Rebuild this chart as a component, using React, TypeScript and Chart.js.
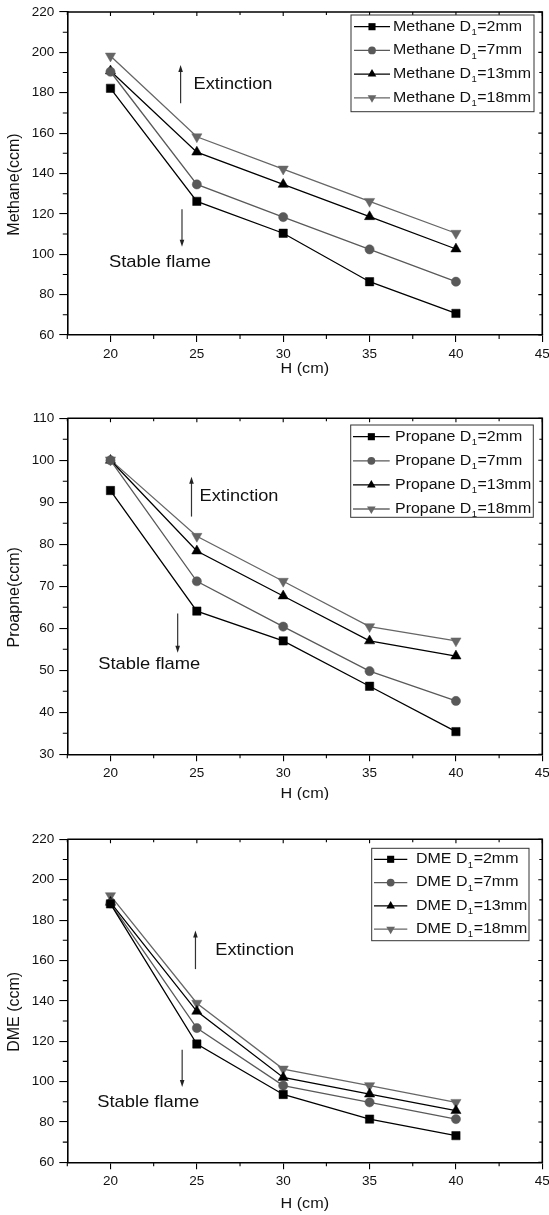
import React, { useEffect, useRef } from 'react';
import { Chart, registerables } from 'chart.js';

Chart.register(...registerables);

// ---------------- data ----------------
const H_CM = [20, 25, 30, 35, 40];
const D1_SIZES = ['2mm', '7mm', '13mm', '18mm'];

const METHANE_2 = [182.2, 126.2, 110.4, 86.4, 70.7];
const METHANE_7 = [190.4, 134.6, 118.4, 102.4, 86.4];
const METHANE_13 = [190.8, 150.6, 134.6, 118.6, 102.6];
const METHANE_18 = [198.2, 158.2, 142.2, 126.2, 110.4];

const PROPANE_2 = [92.8, 64.1, 57.0, 46.2, 35.4];
const PROPANE_7 = [100.0, 71.2, 60.4, 49.8, 42.7];
const PROPANE_13 = [100.0, 78.4, 67.7, 57.0, 53.4];
const PROPANE_18 = [100.1, 81.9, 71.2, 60.4, 57.0];

const DME_2 = [188.0, 118.6, 93.6, 81.4, 73.2];
const DME_7 = [188.3, 126.5, 98.0, 89.7, 81.4];
const DME_13 = [188.8, 134.8, 102.0, 93.8, 85.6];
const DME_18 = [192.1, 138.8, 106.2, 98.0, 89.7];

const X_TICKS = [20, 25, 30, 35, 40, 45];
const Y_TICKS_220 = [60, 80, 100, 120, 140, 160, 180, 200, 220];
const Y_TICKS_110 = [30, 40, 50, 60, 70, 80, 90, 100, 110];

// ---------------- styling ----------------
const FONT = '"Liberation Sans", Arial, Helvetica, sans-serif';
const SERIES_COLORS = ['#000000', '#595959', '#000000', '#666666'];
const POINT_STYLES = ['rect', 'circle', 'triangle', 'triangle'];
const POINT_ROT = [0, 0, 0, 180];
const POINT_R = [5.9, 4.6, 5.9, 5.9];

const W = 549;
const PLOT_LEFT = 67.3;
const PLOT_RIGHT = 542.3;
const X_MIN = 17.5;
const X_MAX = 45;

type Panel = {
  gas: string;
  yTitle: string;
  series: number[][];
  yTicks: number[];
  top: number;
  height: number;
  areaTop: number;
  areaBottom: number;
  xTitleOff: number;
  legend: { x0: number; y0: number; x1: number; y1: number; row0: number; gap: number; lx0: number; lx1: number; tx: number };
  ann: { up: [number, number, number]; down: [number, number, number]; ext: [number, number]; stable: [number, number] };
};

const PANELS: Panel[] = [
  {
    gas: 'Methane', yTitle: 'Methane(ccm)',
    series: [METHANE_2, METHANE_7, METHANE_13, METHANE_18],
    yTicks: Y_TICKS_220,
    top: 0, height: 400, areaTop: 12, areaBottom: 335, xTitleOff: 34,
    legend: { x0: 351, y0: 15, x1: 534, y1: 111.7, row0: 26.7, gap: 23.7, lx0: 354, lx1: 390, tx: 393 },
    ann: { up: [24.06, 174.8, 193.7], down: [24.14, 122.3, 103.7], ext: [24.81, 184.2], stable: [19.91, 96] },
  },
  {
    gas: 'Propane', yTitle: 'Proapne(ccm)',
    series: [PROPANE_2, PROPANE_7, PROPANE_13, PROPANE_18],
    yTicks: Y_TICKS_110,
    top: 400, height: 400, areaTop: 18.3, areaBottom: 354.3, xTitleOff: 39.5,
    legend: { x0: 350.7, y0: 25, x1: 533.3, y1: 117.3, row0: 36.7, gap: 24.1, lx0: 353, lx1: 389.7, tx: 395 },
    ann: { up: [24.69, 86.6, 96.1], down: [23.89, 63.5, 54.2], ext: [25.16, 91.5], stable: [19.29, 51.4] },
  },
  {
    gas: 'DME', yTitle: 'DME (ccm)',
    series: [DME_2, DME_7, DME_13, DME_18],
    yTicks: Y_TICKS_220,
    top: 800, height: 415, areaTop: 39.3, areaBottom: 362.3, xTitleOff: 41.5,
    legend: { x0: 371.7, y0: 48.3, x1: 529, y1: 140.7, row0: 59.3, gap: 23.3, lx0: 374, lx1: 407.3, tx: 416 },
    ann: { up: [24.92, 155.7, 174.8], down: [24.15, 115.8, 97.3], ext: [26.07, 164.9], stable: [19.23, 89.9] },
  },
];

// ---------------- drawing helpers ----------------
const SUBS = '₀₁₂₃₄₅₆₇₈₉';

function drawRich(ctx: CanvasRenderingContext2D, text: string, x: number, y: number, size: number, sx: number) {
  ctx.save();
  ctx.translate(x, y);
  ctx.scale(sx, 1);
  ctx.textBaseline = 'middle';
  ctx.textAlign = 'left';
  const subSize = Math.round(size * 0.6 * 10) / 10;
  let cx = 0;
  let buf = '';
  const flush = () => {
    if (!buf) return;
    ctx.font = `${size}px ${FONT}`;
    ctx.fillText(buf, cx, 0);
    cx += ctx.measureText(buf).width;
    buf = '';
  };
  for (const ch of text) {
    const i = SUBS.indexOf(ch);
    if (i >= 0) {
      flush();
      ctx.font = `${subSize}px ${FONT}`;
      ctx.fillText(String(i), cx + 0.3, size * 0.42);
      cx += ctx.measureText(String(i)).width + 0.8;
    } else buf += ch;
  }
  flush();
  ctx.restore();
}

function drawMarker(ctx: CanvasRenderingContext2D, style: string, rot: number, x: number, y: number, r: number, color: string) {
  ctx.fillStyle = color;
  ctx.beginPath();
  if (style === 'rect') {
    const s = r * Math.SQRT1_2;
    ctx.rect(x - s, y - s, 2 * s, 2 * s);
  } else if (style === 'circle') {
    ctx.arc(x, y, r, 0, Math.PI * 2);
  } else {
    const d = rot ? -1 : 1;
    const hw = r * Math.sin(Math.PI / 3);
    ctx.moveTo(x, y - d * r);
    ctx.lineTo(x - hw, y + (d * r) / 2);
    ctx.lineTo(x + hw, y + (d * r) / 2);
    ctx.closePath();
  }
  ctx.fill();
}

function arrow(ctx: CanvasRenderingContext2D, x: number, yFrom: number, yTo: number) {
  const dir = yTo < yFrom ? -1 : 1;
  ctx.strokeStyle = '#333';
  ctx.fillStyle = '#222';
  ctx.lineWidth = 1.2;
  ctx.beginPath();
  ctx.moveTo(x, yFrom);
  ctx.lineTo(x, yTo - dir * 6);
  ctx.stroke();
  ctx.beginPath();
  ctx.moveTo(x, yTo);
  ctx.lineTo(x - 2.3, yTo - dir * 7);
  ctx.lineTo(x + 2.3, yTo - dir * 7);
  ctx.closePath();
  ctx.fill();
}

function midpoints(arr: number[]) {
  const out: number[] = [];
  for (let i = 0; i < arr.length - 1; i++) out.push((arr[i] + arr[i + 1]) / 2);
  return out;
}

function makeDecor(p: Panel, labels: string[]) {
  return {
    id: 'decor',
    afterDraw(chart: any) {
      const ctx: CanvasRenderingContext2D = chart.ctx;
      const a = chart.chartArea;
      const xs = chart.scales.x;
      const ys = chart.scales.y;
      ctx.save();
      // top and right frame
      ctx.strokeStyle = '#000';
      ctx.lineWidth = 1.6;
      ctx.beginPath();
      ctx.moveTo(a.left, a.top);
      ctx.lineTo(a.right, a.top);
      ctx.lineTo(a.right, a.bottom);
      ctx.stroke();

      ctx.lineWidth = 1.1;
      ctx.beginPath();
      const xMinor = [X_MIN, ...midpoints(X_TICKS)];
      for (const v of xMinor) {
        const px = xs.getPixelForValue(v);
        ctx.moveTo(px, a.bottom);
        ctx.lineTo(px, a.bottom + 4);
        ctx.moveTo(px, a.top);
        ctx.lineTo(px, a.top + 3);
      }
      for (const v of X_TICKS) {
        const px = xs.getPixelForValue(v);
        ctx.moveTo(px, a.top);
        ctx.lineTo(px, a.top + 4);
      }
      const yMinor = midpoints(p.yTicks);
      for (const v of yMinor) {
        const py = ys.getPixelForValue(v);
        ctx.moveTo(a.left - 4.5, py);
        ctx.lineTo(a.left, py);
        ctx.moveTo(a.right, py);
        ctx.lineTo(a.right - 3, py);
      }
      for (const v of p.yTicks) {
        const py = ys.getPixelForValue(v);
        ctx.moveTo(a.right, py);
        ctx.lineTo(a.right - 4, py);
      }
      ctx.stroke();

      // axis titles
      ctx.fillStyle = '#111';
      ctx.font = `16px ${FONT}`;
      ctx.textAlign = 'center';
      ctx.textBaseline = 'middle';
      ctx.save();
      ctx.translate(15, (a.top + a.bottom) / 2 + 11);
      ctx.rotate(-Math.PI / 2);
      ctx.fillText(p.yTitle, 0, 0);
      ctx.restore();
      ctx.save();
      ctx.translate((a.left + a.right) / 2, a.bottom + p.xTitleOff);
      ctx.scale(1.08, 1);
      ctx.font = `15px ${FONT}`;
      ctx.fillText('H (cm)', 0, 0);
      ctx.restore();

      // annotations
      const an = p.ann;
      arrow(ctx, xs.getPixelForValue(an.up[0]), ys.getPixelForValue(an.up[1]), ys.getPixelForValue(an.up[2]));
      arrow(ctx, xs.getPixelForValue(an.down[0]), ys.getPixelForValue(an.down[1]), ys.getPixelForValue(an.down[2]));
      ctx.fillStyle = '#111';
      drawRich(ctx, 'Extinction', xs.getPixelForValue(an.ext[0]), ys.getPixelForValue(an.ext[1]), 17, 1.07);
      drawRich(ctx, 'Stable flame', xs.getPixelForValue(an.stable[0]), ys.getPixelForValue(an.stable[1]), 17, 1.08);

      // legend
      const L = p.legend;
      ctx.fillStyle = '#fff';
      ctx.fillRect(L.x0, L.y0, L.x1 - L.x0, L.y1 - L.y0);
      ctx.strokeStyle = '#333';
      ctx.lineWidth = 1;
      ctx.strokeRect(L.x0, L.y0, L.x1 - L.x0, L.y1 - L.y0);
      labels.forEach((lab, i) => {
        const yy = L.row0 + i * L.gap;
        const col = SERIES_COLORS[i];
        ctx.strokeStyle = col;
        ctx.lineWidth = 1.3;
        ctx.beginPath();
        ctx.moveTo(L.lx0, yy);
        ctx.lineTo(L.lx1, yy);
        ctx.stroke();
        drawMarker(ctx, POINT_STYLES[i], POINT_ROT[i], (L.lx0 + L.lx1) / 2, yy, POINT_R[i] * 0.85, col);
        ctx.fillStyle = '#111';
        drawRich(ctx, lab, L.tx, yy, 14, 1.14);
      });
      ctx.restore();
    },
  };
}

function ChartPanel({ p }: { p: Panel }) {
  const ref = useRef<HTMLCanvasElement | null>(null);
  useEffect(() => {
    if (!ref.current) return;
    const labels = D1_SIZES.map((s) => `${p.gas} D₁=${s}`);
    const datasets = p.series.map((vals, i) => ({
      label: labels[i],
      data: H_CM.map((h, j) => ({ x: h, y: vals[j] })),
      borderColor: SERIES_COLORS[i],
      backgroundColor: SERIES_COLORS[i],
      borderWidth: 1.3,
      pointStyle: POINT_STYLES[i],
      pointRotation: POINT_ROT[i],
      pointRadius: POINT_R[i],
      pointBorderWidth: 0.5,
      pointBorderColor: SERIES_COLORS[i],
      pointBackgroundColor: SERIES_COLORS[i],
      tension: 0,
    }));
    const xAxisH = p.height - p.areaBottom;
    const chart = new Chart(ref.current, {
      type: 'line',
      data: { datasets } as any,
      options: {
        animation: false,
        responsive: false,
        devicePixelRatio: 1,
        layout: { padding: { top: p.areaTop, right: W - PLOT_RIGHT, left: 0, bottom: 0 } },
        plugins: { legend: { display: false }, tooltip: { enabled: false } },
        scales: {
          x: {
            type: 'linear',
            min: X_MIN,
            max: X_MAX,
            afterBuildTicks: (s: any) => {
              s.ticks = X_TICKS.map((v) => ({ value: v }));
            },
            afterFit: (s: any) => {
              s.height = xAxisH;
              s.paddingLeft = 0;
              s.paddingRight = 0;
            },
            grid: { drawOnChartArea: false, drawTicks: true, tickLength: 7, color: '#000', lineWidth: 1.1 },
            border: { display: true, color: '#000', width: 1.6 },
            ticks: { font: { family: FONT, size: 13.5 }, color: '#111', padding: 4, maxRotation: 0, autoSkip: false },
          },
          y: {
            type: 'linear',
            min: p.yTicks[0],
            max: p.yTicks[p.yTicks.length - 1],
            afterBuildTicks: (s: any) => {
              s.ticks = p.yTicks.map((v) => ({ value: v }));
            },
            afterFit: (s: any) => {
              s.width = PLOT_LEFT;
              s.paddingTop = 0;
              s.paddingBottom = 0;
            },
            grid: { drawOnChartArea: false, drawTicks: true, tickLength: 8, color: '#000', lineWidth: 1.1 },
            border: { display: true, color: '#000', width: 1.6 },
            ticks: { font: { family: FONT, size: 13.5 }, color: '#111', padding: 5, autoSkip: false },
          },
        },
      } as any,
      plugins: [makeDecor(p, labels)],
    });
    return () => chart.destroy();
  }, [p]);
  return (
    <canvas
      ref={ref}
      width={W}
      height={p.height}
      style={{ position: 'absolute', left: 0, top: p.top, width: W, height: p.height }}
    />
  );
}

export default function App() {
  return (
    <div style={{ position: 'absolute', left: 0, top: 0, width: W, height: 1215, background: '#fff', overflow: 'hidden' }}>
      {PANELS.map((p) => (
        <ChartPanel key={p.gas} p={p} />
      ))}
    </div>
  );
}
